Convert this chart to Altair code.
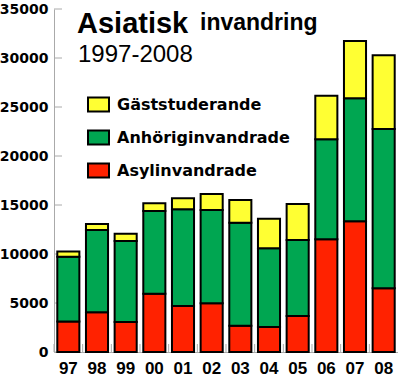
import altair as alt
import pandas as pd

years = ["97", "98", "99", "00", "01", "02", "03", "04", "05", "06", "07", "08"]
asyl = [3100, 4050, 3060, 5950, 4690, 4970, 2690, 2550, 3670, 11500, 13330, 6500]
anhorig = [6620, 8400, 8270, 8440, 9870, 9520, 10510, 8030, 7760, 10200, 12560, 16260]
gast = [530, 610, 740, 780, 1120, 1630, 2310, 3020, 3670, 4450, 5840, 7510]
series = ["Gäststuderande", "Anhöriginvandrade", "Asylinvandrade"]
colors = ["#FFFF33", "#00A651", "#FF2200"]
y_ticks = [0, 5000, 10000, 15000, 20000, 25000, 30000, 35000]
title_main = ["Asiatisk"]
title_word = ["invandring"]
title_years = ["1997-2008"]

rows = []
for i, yr in enumerate(years):
    rows.append({"year": yr, "serie": "Asylinvandrade", "value": asyl[i], "ord": 0})
    rows.append({"year": yr, "serie": "Anhöriginvandrade", "value": anhorig[i], "ord": 1})
    rows.append({"year": yr, "serie": "Gäststuderande", "value": gast[i], "ord": 2})
df = pd.DataFrame(rows)

W, H = 344, 343
xscale = alt.Scale(paddingInner=0.23, paddingOuter=0.115)
yscale = alt.Scale(domain=[0, 35000], nice=False)

xaxis = alt.Axis(
    title=None, labelAngle=0, labelFont="Liberation Sans", labelFontWeight="bold",
    labelFontSize=17, labelColor="black", tickSize=0, labelPadding=8,
    domainColor="#aaaaaa",
)
yaxis = alt.Axis(
    title=None, values=y_ticks, format="d", labelFont="DejaVu Sans",
    labelFontWeight="bold", labelFontSize=14, labelColor="black",
    tickSize=0, labelPadding=6, domainColor="#aaaaaa", grid=False,
)

ytick_layer = alt.Chart(pd.DataFrame({"value": y_ticks})).mark_rule(
    color="#aaaaaa", strokeWidth=1
).encode(
    y=alt.Y("value:Q", scale=yscale, axis=yaxis),
    x=alt.value(0),
    x2=alt.value(8),
)

xtick_layer = alt.Chart(pd.DataFrame({"year": years})).mark_rule(
    color="#aaaaaa", strokeWidth=1, xOffset=-3.3
).encode(
    x=alt.X("year:N", sort=years, bandPosition=0, scale=xscale, axis=xaxis),
    y=alt.value(H - 8),
    y2=alt.value(H),
)

bars = alt.Chart(df).mark_bar(stroke="black", strokeWidth=2).encode(
    x=alt.X("year:N", sort=years, scale=xscale, axis=xaxis),
    y=alt.Y("value:Q", stack="zero", scale=yscale, axis=yaxis),
    color=alt.Color(
        "serie:N",
        scale=alt.Scale(domain=series, range=colors),
        legend=alt.Legend(
            orient="none", legendX=33, legendY=84, title=None,
            symbolType="M-1,-0.667H1V0.667H-1Z", symbolSize=441,
            symbolStrokeColor="black", symbolStrokeWidth=2, symbolOpacity=1,
            labelFont="DejaVu Sans", labelFontWeight="bold", labelFontSize=16,
            labelColor="black", rowPadding=10, labelOffset=7, padding=0,
            labelLimit=400,
        ),
    ),
    order=alt.Order("ord:Q", sort="ascending"),
)

t1 = alt.Chart(pd.DataFrame({"label": title_main})).mark_text(
    align="left", baseline="alphabetic", font="Liberation Sans", fontWeight="bold",
    fontSize=29, color="black", x=23, y=24,
).encode(text="label:N")

t2 = alt.Chart(pd.DataFrame({"label": title_word})).mark_text(
    align="left", baseline="alphabetic", font="Liberation Sans", fontWeight="bold",
    fontSize=23, color="black", x=146, y=21,
).encode(text="label:N")

t3 = alt.Chart(pd.DataFrame({"label": title_years})).mark_text(
    align="left", baseline="alphabetic", font="Liberation Sans", fontWeight="normal",
    fontSize=24, color="black", x=24, y=53,
).encode(text="label:N")

chart = alt.layer(ytick_layer, xtick_layer, bars, t1, t2, t3).properties(
    width=W,
    height=H,
    padding={"left": 54, "top": 9, "right": 0, "bottom": 25},
    autosize=alt.AutoSizeParams(type="none"),
    background="white",
).configure_view(stroke=None)

chart.save("out.html", embed_options={"renderer": "svg", "actions": False})
